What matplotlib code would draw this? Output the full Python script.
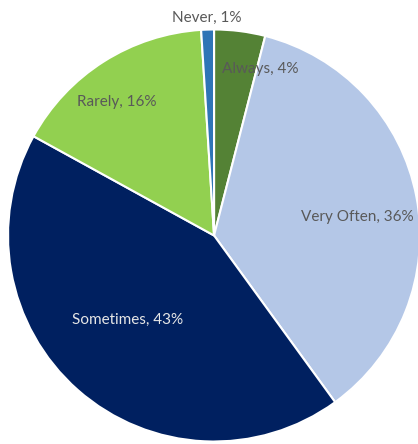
import matplotlib
matplotlib.use("Agg")
import matplotlib.pyplot as plt

# survey answers, clockwise from the top
answers = ["Always", "Very Often", "Sometimes", "Rarely", "Never"]
shares = [4, 36, 43, 16, 1]

colors = ["#548235", "#b4c7e7", "#002060", "#92d050", "#2e75b6"]
text_colors = ["#595959", "#595959", "#e6e6e6", "#595959", "#595959"]
# label anchor points (in units of the pie radius)
label_xy = [(0.223, 0.806), (0.694, 0.092), (-0.422, -0.408),
            (-0.471, 0.646), (-0.034, 1.058)]

fig = plt.figure(figsize=(4.18, 4.44), dpi=100)
ax = fig.add_axes([0, 0, 1, 1])

ax.pie(shares, colors=colors, startangle=90, counterclock=False,
       radius=1.0, center=(0, 0),
       wedgeprops=dict(edgecolor="white", linewidth=1.5))

for name, val, (x, y), c in zip(answers, shares, label_xy, text_colors):
    ax.text(x, y, f"{name}, {val}%", ha="center", va="center",
            fontsize=11, color=c, family="Lato")

ax.set_xlim(-1.039, 0.990)
ax.set_ylim(-1.012, 1.143)
ax.set_aspect("equal")
ax.axis("off")

fig.savefig("out.png", dpi=100)
